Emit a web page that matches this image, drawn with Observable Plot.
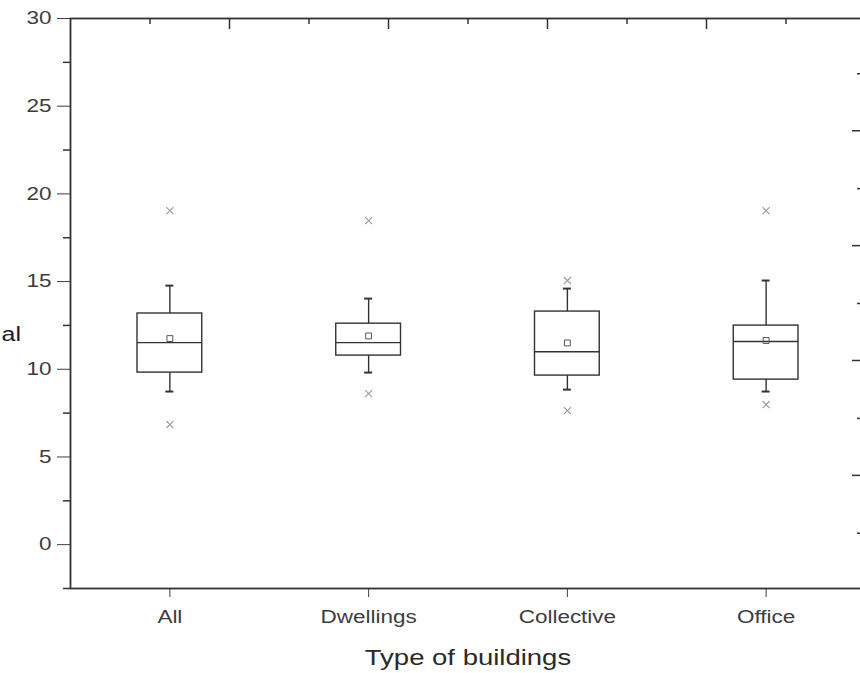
<!DOCTYPE html>
<html><head><meta charset="utf-8">
<script src="https://cdn.jsdelivr.net/npm/d3@7"></script>
<script src="https://cdn.jsdelivr.net/npm/@observablehq/plot@0.6"></script>
<style>
html,body{margin:0;padding:0;background:#fff;overflow:hidden;}
#chart{width:870px;}
</style></head><body><div id="chart"></div>
<script>
const categories = ["All", "Dwellings", "Collective", "Office"];
const q1 = [9.81, 10.78, 9.64, 9.41];
const median = [11.52, 11.52, 11.0, 11.58];
const q3 = [13.18, 12.6, 13.29, 12.49];
const whiskerLow = [8.73, 9.81, 8.84, 8.73];
const whiskerHigh = [14.77, 14.03, 14.6, 15.06];
const mean = [11.75, 11.9, 11.5, 11.64];
const minimum = [6.85, 8.61, 7.64, 7.99];
const maximum = [19.05, 18.48, 15.06, 19.05];

const yDomain = [-2.5, 30];
const yTicks = [0, 5, 10, 15, 20, 25, 30];
const yMinorTicks = [-2.5, 2.5, 7.5, 12.5, 17.5, 22.5, 27.5];
const xDomain = [0.5, 4.5];
const xTicks = [1, 2, 3, 4];
const topMajorTicks = [1.3, 2.1, 2.9, 3.7];
const topMinorTicks = [0.9, 1.7, 2.5, 3.3, 4.1];
const rightMajorTicks = [23.6, 17.05, 10.5, 3.95];
const rightMinorTicks = [26.85, 20.3, 13.75, 7.2, 0.65];

const data = categories.map((c, i) => ({
  pos: xTicks[i], name: c, q1: q1[i], median: median[i], q3: q3[i],
  lo: whiskerLow[i], hi: whiskerHigh[i], mean: mean[i], min: minimum[i], max: maximum[i]
}));

const ink = "#333";
const boxInset = 67;

const chart = Plot.plot({
  width: 870,
  height: 673,
  marginLeft: 70,
  marginRight: 5,
  marginTop: 18,
  marginBottom: 85,
  style: {fontFamily: "'Liberation Sans', Arial, sans-serif", fontSize: "18px", color: "#3d3d3d", background: "white", maxWidth: "none"},
  x: {domain: xDomain, ticks: xTicks, tickFormat: d => categories[d - 1], tickSize: 9, tickPadding: 13, label: null},
  y: {domain: yDomain, ticks: yTicks, tickSize: 13, tickPadding: 6, label: null},
  marks: [
    Plot.frame({stroke: ink, strokeWidth: 1.8}),
    Plot.ruleY(yMinorTicks, {x1: xDomain[0], x2: xDomain[0], insetLeft: -7, stroke: ink, strokeWidth: 1.5}),
    Plot.ruleX(topMajorTicks, {y1: yDomain[1], y2: yDomain[1], insetBottom: -11, stroke: ink, strokeWidth: 1.5}),
    Plot.ruleX(topMinorTicks, {y1: yDomain[1], y2: yDomain[1], insetBottom: -6, stroke: ink, strokeWidth: 1.5}),
    Plot.ruleY(rightMajorTicks, {x1: xDomain[1], x2: xDomain[1], insetLeft: -13, stroke: ink, strokeWidth: 1.5}),
    Plot.ruleY(rightMinorTicks, {x1: xDomain[1], x2: xDomain[1], insetLeft: -8, stroke: ink, strokeWidth: 1.5}),
    // whiskers
    Plot.ruleX(data, {x: "pos", y1: "q3", y2: "hi", stroke: ink, strokeWidth: 1.4}),
    Plot.ruleX(data, {x: "pos", y1: "q1", y2: "lo", stroke: ink, strokeWidth: 1.4}),
    Plot.ruleY(data, {y: "hi", x1: "pos", x2: "pos", insetLeft: -4, insetRight: -4, stroke: ink, strokeWidth: 2}),
    Plot.ruleY(data, {y: "lo", x1: "pos", x2: "pos", insetLeft: -4, insetRight: -4, stroke: ink, strokeWidth: 2}),
    // boxes
    Plot.rect(data, {x1: d => d.pos - 0.5, x2: d => d.pos + 0.5, y1: "q1", y2: "q3", insetLeft: boxInset, insetRight: boxInset, fill: "white", stroke: ink, strokeWidth: 1.4}),
    Plot.ruleY(data, {y: "median", x1: d => d.pos - 0.5, x2: d => d.pos + 0.5, insetLeft: boxInset, insetRight: boxInset, stroke: ink, strokeWidth: 1.4}),
    Plot.dot(data, {x: "pos", y: "mean", symbol: "square", r: 3.3, stroke: "#555", fill: "none", strokeWidth: 1}),
    Plot.dot(data, {x: "pos", y: "max", symbol: "times", r: 3.3, stroke: "#9a9a9a", strokeWidth: 1.1}),
    Plot.dot(data, {x: "pos", y: "min", symbol: "times", r: 3.3, stroke: "#9a9a9a", strokeWidth: 1.1}),
    // labels
    Plot.text(["Type of buildings"], {frameAnchor: "bottom", dy: 76, fontSize: 22, fill: "#2a2a2a"}),
    Plot.text(["al"], {frameAnchor: "left", textAnchor: "start", dx: -69, dy: 31, fontSize: 20, fill: "#1c1c2a"})
  ]
});

const stretch = 1.25;
chart.querySelectorAll("text").forEach(t => {
  const x = +(t.getAttribute("x") || 0);
  const tr = t.getAttribute("transform") || "";
  t.setAttribute("transform", `${tr} translate(${x},0) scale(${stretch},1) translate(${-x},0)`);
});

document.getElementById("chart").appendChild(chart);
</script>
</body></html>
